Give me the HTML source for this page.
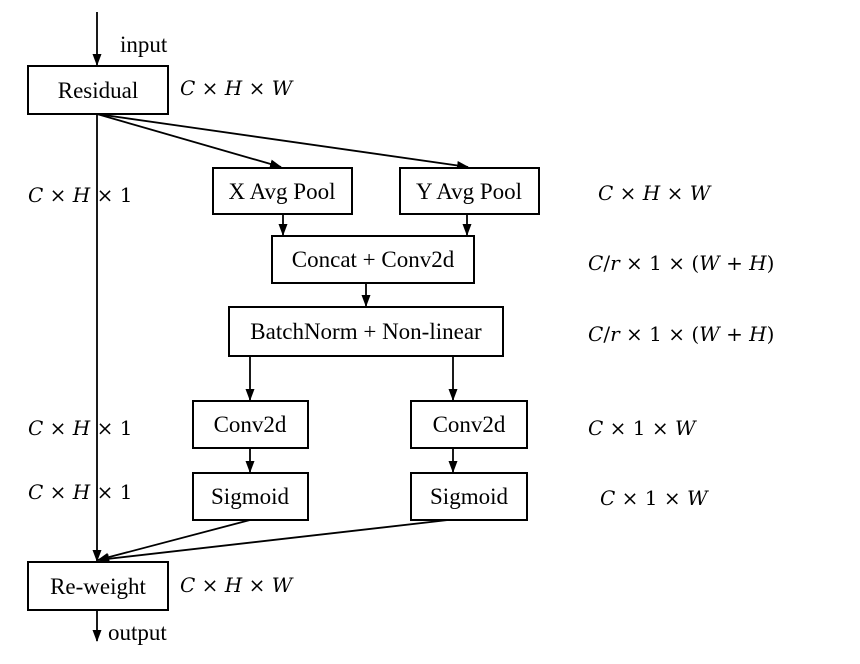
<!DOCTYPE html>
<html><head><meta charset="utf-8"><style>
html,body{margin:0;padding:0;background:#fff;}
svg{display:block;}
.bx{fill:#fff;stroke:#000;stroke-width:2;}
.t{font-family:"Liberation Serif",serif;font-size:23px;fill:#000;}
.m{font-family:"DejaVu Serif","Liberation Serif",serif;font-style:italic;font-size:20px;fill:#000;}
.u{font-style:normal;}
.ln{stroke:#000;stroke-width:1.8;fill:none;}
</style></head><body>
<svg width="860" height="664" viewBox="0 0 860 664">
<defs><marker id="ah" markerWidth="12" markerHeight="12" refX="11" refY="6" orient="auto" markerUnits="userSpaceOnUse"><path d="M0,1.5 L12,6 L0,10.5 z" fill="#000"/></marker></defs>
<g>
<line class="ln" x1="97" y1="12" x2="97" y2="65" marker-end="url(#ah)"/>
<line class="ln" x1="97" y1="114" x2="97" y2="561" marker-end="url(#ah)"/>
<line class="ln" x1="97" y1="114" x2="281" y2="167" marker-end="url(#ah)"/>
<line class="ln" x1="97" y1="114" x2="468" y2="167" marker-end="url(#ah)"/>
<line class="ln" x1="283" y1="214" x2="283" y2="235" marker-end="url(#ah)"/>
<line class="ln" x1="467" y1="214" x2="467" y2="235" marker-end="url(#ah)"/>
<line class="ln" x1="366" y1="283" x2="366" y2="306" marker-end="url(#ah)"/>
<line class="ln" x1="250" y1="356" x2="250" y2="400" marker-end="url(#ah)"/>
<line class="ln" x1="453" y1="356" x2="453" y2="400" marker-end="url(#ah)"/>
<line class="ln" x1="250" y1="448" x2="250" y2="472" marker-end="url(#ah)"/>
<line class="ln" x1="453" y1="448" x2="453" y2="472" marker-end="url(#ah)"/>
<line class="ln" x1="250" y1="520" x2="98" y2="560" marker-end="url(#ah)"/>
<line class="ln" x1="448" y1="520" x2="98" y2="560" marker-end="url(#ah)"/>
<line class="ln" x1="97" y1="610" x2="97" y2="641" marker-end="url(#ah)"/>
</g>
<text class="t" x="120" y="52">input</text>
<text class="t" x="108" y="640">output</text>
<g><rect class="bx" x="28" y="66" width="140" height="48"/><text class="t" x="98" y="98" text-anchor="middle">Residual</text></g>
<g><rect class="bx" x="213" y="168" width="139" height="46"/><text class="t" x="282" y="199" text-anchor="middle">X Avg Pool</text></g>
<g><rect class="bx" x="400" y="168" width="139" height="46"/><text class="t" x="469" y="199" text-anchor="middle">Y Avg Pool</text></g>
<g><rect class="bx" x="272" y="236" width="202" height="47"/><text class="t" x="373" y="267" text-anchor="middle">Concat + Conv2d</text></g>
<g><rect class="bx" x="229" y="307" width="274" height="49"/><text class="t" x="366" y="339" text-anchor="middle">BatchNorm + Non-linear</text></g>
<g><rect class="bx" x="193" y="401" width="115" height="47"/><text class="t" x="250" y="432" text-anchor="middle">Conv2d</text></g>
<g><rect class="bx" x="411" y="401" width="116" height="47"/><text class="t" x="469" y="432" text-anchor="middle">Conv2d</text></g>
<g><rect class="bx" x="193" y="473" width="115" height="47"/><text class="t" x="250" y="504" text-anchor="middle">Sigmoid</text></g>
<g><rect class="bx" x="411" y="473" width="116" height="47"/><text class="t" x="469" y="504" text-anchor="middle">Sigmoid</text></g>
<g><rect class="bx" x="28" y="562" width="140" height="48"/><text class="t" x="98" y="594" text-anchor="middle">Re-weight</text></g>
<g>
<text class="m" x="180" y="95">C × H × W</text>
<text class="m" x="28" y="202">C × H × <tspan class="u">1</tspan></text>
<text class="m" x="598" y="200">C × H × W</text>
<text class="m" x="588" y="270">C<tspan class="u">/</tspan>r × <tspan class="u">1</tspan> × <tspan class="u">(</tspan>W <tspan class="u">+</tspan> H<tspan class="u">)</tspan></text>
<text class="m" x="588" y="341">C<tspan class="u">/</tspan>r × <tspan class="u">1</tspan> × <tspan class="u">(</tspan>W <tspan class="u">+</tspan> H<tspan class="u">)</tspan></text>
<text class="m" x="28" y="435">C × H × <tspan class="u">1</tspan></text>
<text class="m" x="588" y="435">C × <tspan class="u">1</tspan> × W</text>
<text class="m" x="28" y="499">C × H × <tspan class="u">1</tspan></text>
<text class="m" x="600" y="505">C × <tspan class="u">1</tspan> × W</text>
<text class="m" x="180" y="592">C × H × W</text>
</g>
</svg>
</body></html>
